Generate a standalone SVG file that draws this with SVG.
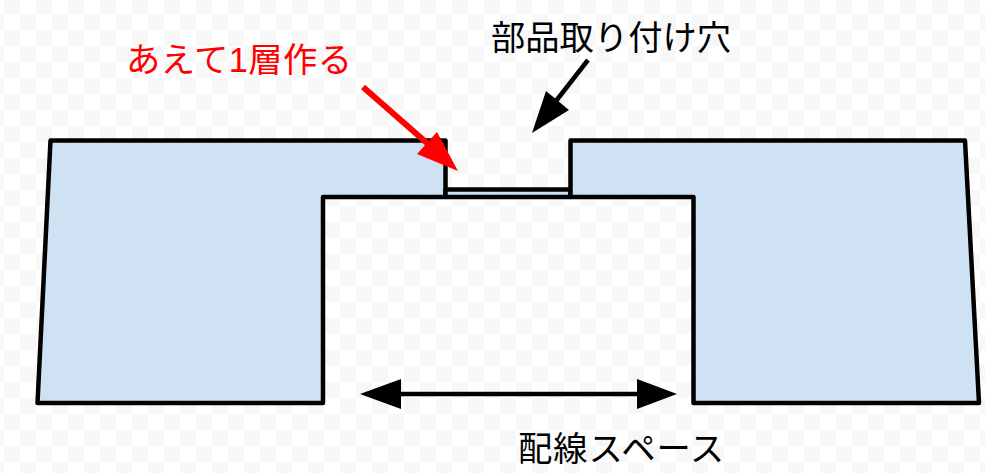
<svg xmlns="http://www.w3.org/2000/svg" width="985" height="473" viewBox="0 0 985 473">
  <style>
    .shape { fill: #cfe2f3; stroke: #000; stroke-width: 4.5; stroke-linejoin: round; stroke-linecap: round; }
    .label { font-family: "Liberation Sans", "Noto Sans CJK JP", sans-serif; font-size: 34.3px; fill: #000; }
    .red { fill: #ff0000; }
    .blk { fill: none; stroke: #000; stroke-width: 4.5; }
    .rline { fill: none; stroke: #ff0000; stroke-width: 6; }
  </style>
  <defs>
    <pattern id="checker" patternUnits="userSpaceOnUse" x="4" y="-2" width="32" height="32">
      <rect width="32" height="32" fill="#ffffff"/>
      <rect width="16" height="16" fill="#f7f7f7"/>
      <rect x="16" y="16" width="16" height="16" fill="#f7f7f7"/>
    </pattern>
  </defs>
  <rect width="985" height="473" fill="url(#checker)"/>
  <g id="node-left-block"><path class="shape" d="M50.5 140.5H445.5V197H323V403H37.5Z"/></g>
  <g id="node-thin-layer"><path class="shape" d="M445.5 189.5H570.5V197H445.5Z"/></g>
  <g id="node-right-block"><path class="shape" d="M570.5 140.5H965L979 403H693.5V197H570.5Z"/></g>
  <g id="connectors">
    <line class="rline" x1="363" y1="87" x2="428" y2="144"/>
    <polygon class="red" points="458,171 437,132 417,154"/>
    <line class="blk" x1="588" y1="60" x2="556" y2="101"/>
    <polygon points="532,133 546,91 569,110"/>
    <line class="blk" x1="400" y1="394" x2="638" y2="394"/>
    <polygon points="360,394 401,379 401,409"/>
    <polygon points="677,394 637,379 637,409"/>
  </g>
  <g id="node-label-layer"><text class="label red" x="126" y="72" letter-spacing="0.5">あえて1層作る</text></g>
  <g id="node-label-hole"><text class="label" x="491" y="50">部品取り付け穴</text></g>
  <g id="node-label-space"><text class="label" x="518" y="461" letter-spacing="0.9">配線スペース</text></g>
</svg>
